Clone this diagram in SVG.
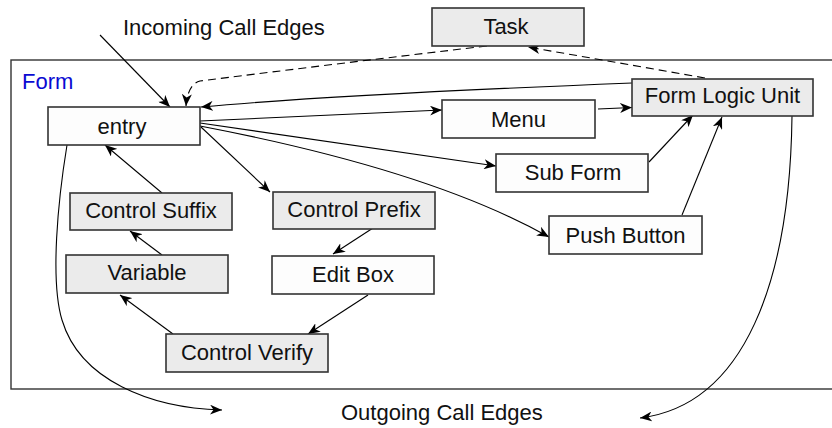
<svg xmlns="http://www.w3.org/2000/svg" width="832" height="428" viewBox="0 0 832 428">
<defs>
<marker id="ah" markerWidth="13" markerHeight="10" refX="12" refY="5" orient="auto" markerUnits="userSpaceOnUse">
<path d="M0,0 L12,5 L0,10 L3.5,5 Z" fill="#000"/>
</marker>
</defs>
<style>
text{font-family:"Liberation Sans",Arial,sans-serif;font-size:22px;fill:#111}
.n text{text-anchor:middle}
.g rect{fill:#ebebeb;stroke:#333;stroke-width:1.6}
.w rect{fill:#fdfdfd;stroke:#333;stroke-width:1.6}
.e path{fill:none;stroke:#000;stroke-width:1.1;marker-end:url(#ah)}
.e .d{stroke-dasharray:8 5}
</style>
<rect width="832" height="428" fill="#fff"/>
<g id="form">
<rect x="11" y="60" width="830" height="329" fill="none" stroke="#333" stroke-width="1.4"/>
<text x="22" y="89" style="fill:#0a0ad2">Form</text>
</g>
<text x="123" y="35">Incoming Call Edges</text>
<text x="341" y="420">Outgoing Call Edges</text>
<g class="e" id="edges">
<path d="M100,35 L170,107"/>
<path class="d" d="M487,46 C350,62 240,76 200,81 C192,83 187,92 186,106"/>
<path class="d" d="M705,78 L528,47"/>
<path d="M632,83 Q330,95 201,107"/>
<path d="M200,121 L442,110"/>
<path d="M598,109 L632,107.5"/>
<path d="M200,123 L496,166"/>
<path d="M200,126 Q430,170 549,237"/>
<path d="M649,162 L693,115"/>
<path d="M682,215 L722,117"/>
<path d="M792,116 C790,280 745,405 640,418"/>
<path d="M67,145 C58,200 50,280 62,320 C80,380 150,408 222,410"/>
<path d="M201,127 L270,192"/>
<path d="M162,193 L105,145"/>
<path d="M162,255 L130,231"/>
<path d="M373,228 L333,254"/>
<path d="M368,295 L308,334"/>
<path d="M173,334 L120,295"/>
</g>
<g id="task" class="n g"><rect x="432" y="8" width="152" height="38"/><text x="506" y="33.5">Task</text></g>
<g id="flu" class="n g"><rect x="632" y="79" width="181" height="37"/><text x="722.5" y="103">Form Logic Unit</text></g>
<g id="entry" class="n w"><rect x="48" y="107" width="152" height="38"/><text x="122" y="134">entry</text></g>
<g id="menu" class="n w"><rect x="442" y="100" width="153" height="38"/><text x="518.5" y="126.5">Menu</text></g>
<g id="subform" class="n w"><rect x="496" y="154" width="152" height="38"/><text x="573" y="180">Sub Form</text></g>
<g id="pushbutton" class="n w"><rect x="549" y="216" width="153" height="38"/><text x="625.5" y="243">Push Button</text></g>
<g id="controlsuffix" class="n g"><rect x="70" y="193" width="162" height="37"/><text x="151" y="217.5">Control Suffix</text></g>
<g id="controlprefix" class="n g"><rect x="273" y="192" width="162" height="37"/><text x="354" y="217">Control Prefix</text></g>
<g id="variable" class="n g"><rect x="66" y="255" width="162" height="38"/><text x="147" y="280">Variable</text></g>
<g id="editbox" class="n w"><rect x="272" y="256" width="162" height="38"/><text x="353" y="281.5">Edit Box</text></g>
<g id="controlverify" class="n g"><rect x="166" y="334" width="162" height="38"/><text x="247" y="360">Control Verify</text></g>
</svg>
